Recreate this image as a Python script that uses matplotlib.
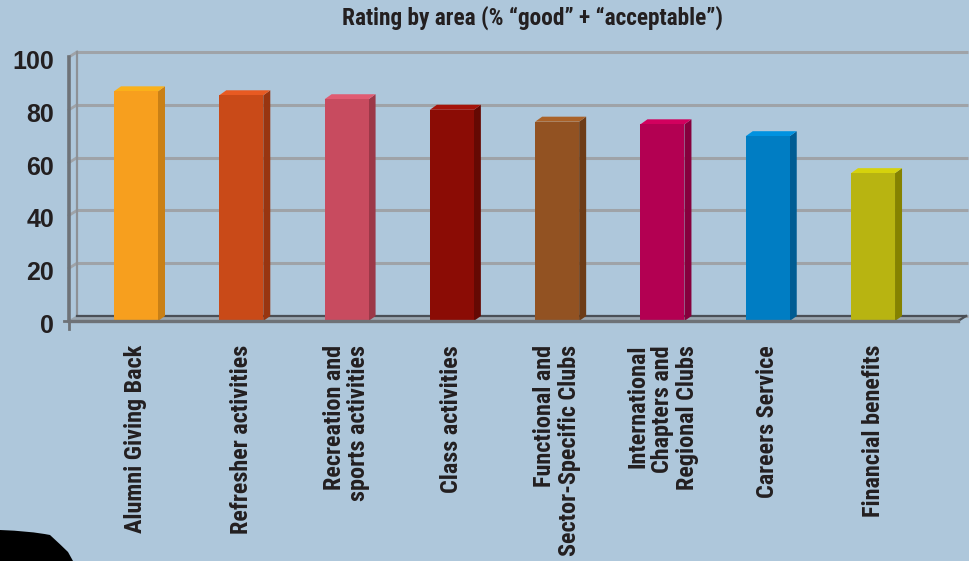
import matplotlib
matplotlib.use("Agg")
import matplotlib.pyplot as plt
from matplotlib.patches import Polygon, PathPatch
from matplotlib.path import Path

categories = ["Alumni Giving Back", "Refresher activities", "Recreation and\nsports activities",
              "Class activities", "Functional and\nSector-Specific Clubs",
              "International\nChapters and\nRegional Clubs", "Careers Service", "Financial benefits"]
values = [87, 85.5, 84, 80, 75.5, 74.5, 70, 56]
front_colors = ["#f79f1e", "#c94a18", "#c84b5f", "#8b0c05", "#925222", "#b30052", "#007dc3", "#b8b411"]
side_colors = ["#c98016", "#983510", "#9c3848", "#650903", "#6d3c17", "#86003d", "#005c93", "#858200"]
top_colors = ["#fab11a", "#e85a22", "#e05b72", "#a5140a", "#aa6228", "#d2005e", "#0092e0", "#d6d20c"]
yticks = [0, 20, 40, 60, 80, 100]
title = "Rating by area (% \u201cgood\u201d + \u201cacceptable\u201d)"

COND = ["Roboto Condensed", "Liberation Sans", "DejaVu Sans"]
BG = "#aec7db"
W, H = 970, 561
fig = plt.figure(figsize=(W / 100, H / 100), dpi=100, facecolor=BG)

# axes in pixel geometry
px_left, px_right, px_bottom, px_top = 69, 958, 321, 40
ax = fig.add_axes([px_left / W, (H - px_bottom) / H, (px_right - px_left) / W, (px_bottom - px_top) / H])
ax.set_facecolor("none")
for s in ax.spines.values():
    s.set_visible(False)

sx = 105.29  # px per category
sy = 2.64    # px per value unit
xl = -(136 - px_left) / sx
xr = xl + (px_right - px_left) / sx
ax.set_xlim(xl, xr)
ax.set_ylim(0, (px_bottom - px_top) / sy)

# depth offsets
dxp, dyp = 8 / sx, 5 / sy      # back wall
dxb, dyb = 7 / sx, 5 / sy      # bar depth

grid_c = "#9fa3a8"
# back wall gridlines + left wall connectors
for v in yticks:
    ax.plot([xl + dxp, xr + dxp + 2 / sx], [v + dyp, v + dyp], color=grid_c, lw=2.2,
            clip_on=False, zorder=1, solid_capstyle="butt")
    if v > 0:
        ax.plot([xl, xl + dxp], [v, v + dyp], color=grid_c, lw=2, clip_on=False, zorder=1)
# back vertical axis
ax.plot([xl + dxp, xl + dxp], [dyp, 100 + dyp], color="#8d9196", lw=1.6, clip_on=False, zorder=1)
# floor
ax.fill([xl, xr, xr + dxp, xl + dxp], [0, 0, dyp, dyp], color="#9aa6b0", clip_on=False, zorder=1)
ax.plot([xl + dxp, xr + dxp], [dyp, dyp], color="#4a4f56", lw=1.6, clip_on=False, zorder=1)
ax.plot([xr, xr + dxp], [0, dyp], color="#4a4f56", lw=1.6, clip_on=False, zorder=1)
ax.plot([xl, xr], [0, 0], color="#6e7277", lw=2.4, clip_on=False, zorder=4)
# front vertical axis
ax.plot([xl, xl], [0, 100], color="#6e7277", lw=2.6, clip_on=False, zorder=4)
# zero tick marks
ax.plot([xl - 5 / sx, xl], [0, 0], color="#6e7277", lw=2, clip_on=False, zorder=4)
ax.plot([xl, xl], [0, -8 / sy], color="#6e7277", lw=2, clip_on=False, zorder=4)

# bars
bw = 44 / sx
xs = list(range(len(values)))
ax.bar(xs, values, width=bw, color=front_colors, zorder=3, linewidth=0)
for x, v, sc, tc in zip(xs, values, side_colors, top_colors):
    r = x + bw / 2
    l = x - bw / 2
    ax.add_patch(Polygon([(r, 0), (r + dxb, dyb), (r + dxb, v + dyb), (r, v)], closed=True,
                         facecolor=sc, edgecolor="none", zorder=2))
    ax.add_patch(Polygon([(l, v), (l + dxb, v + dyb), (r + dxb, v + dyb), (r, v)], closed=True,
                         facecolor=tc, edgecolor="none", zorder=2))

# y tick labels
ax.set_xticks([])
ax.set_yticks([])
for v in yticks:
    ax.annotate(str(v), xy=(xl, v), xycoords="data", xytext=(-15 * 0.72, -5 * 0.72),
                textcoords="offset points", ha="right", va="center", fontsize=18,
                fontweight="bold", color="#231f20", family=["Liberation Sans", "DejaVu Sans"],
                annotation_clip=False)

# category labels
for x, lab in zip(xs, categories):
    ax.annotate(lab, xy=(x, 0), xycoords=("data", "axes fraction"), xytext=(0, -24 * 0.72),
                textcoords="offset points", rotation=90, ha="center", va="top",
                multialignment="right", fontsize=17.4, fontweight="bold", color="#231f20",
                family=COND, linespacing=1.1, annotation_clip=False)

fig.text(533 / W, 1 - 18 / H, title, ha="center", va="center", fontsize=16.8, fontweight="bold",
         color="#231f20", family=COND)

# black decorative blob at bottom left
verts = [(0, 530), (30, 531), (50, 535), (62, 546), (68, 552), (73, 561), (0, 561), (0, 530)]
verts = [(vx / W, 1 - vy / H) for vx, vy in verts]
codes = [Path.MOVETO, Path.CURVE3, Path.LINETO, Path.CURVE3, Path.LINETO, Path.LINETO,
         Path.LINETO, Path.CLOSEPOLY]
fig.patches.append(PathPatch(Path(verts, codes), transform=fig.transFigure,
                             facecolor="black", edgecolor="none"))

fig.savefig("out.png", dpi=100, facecolor=BG)
